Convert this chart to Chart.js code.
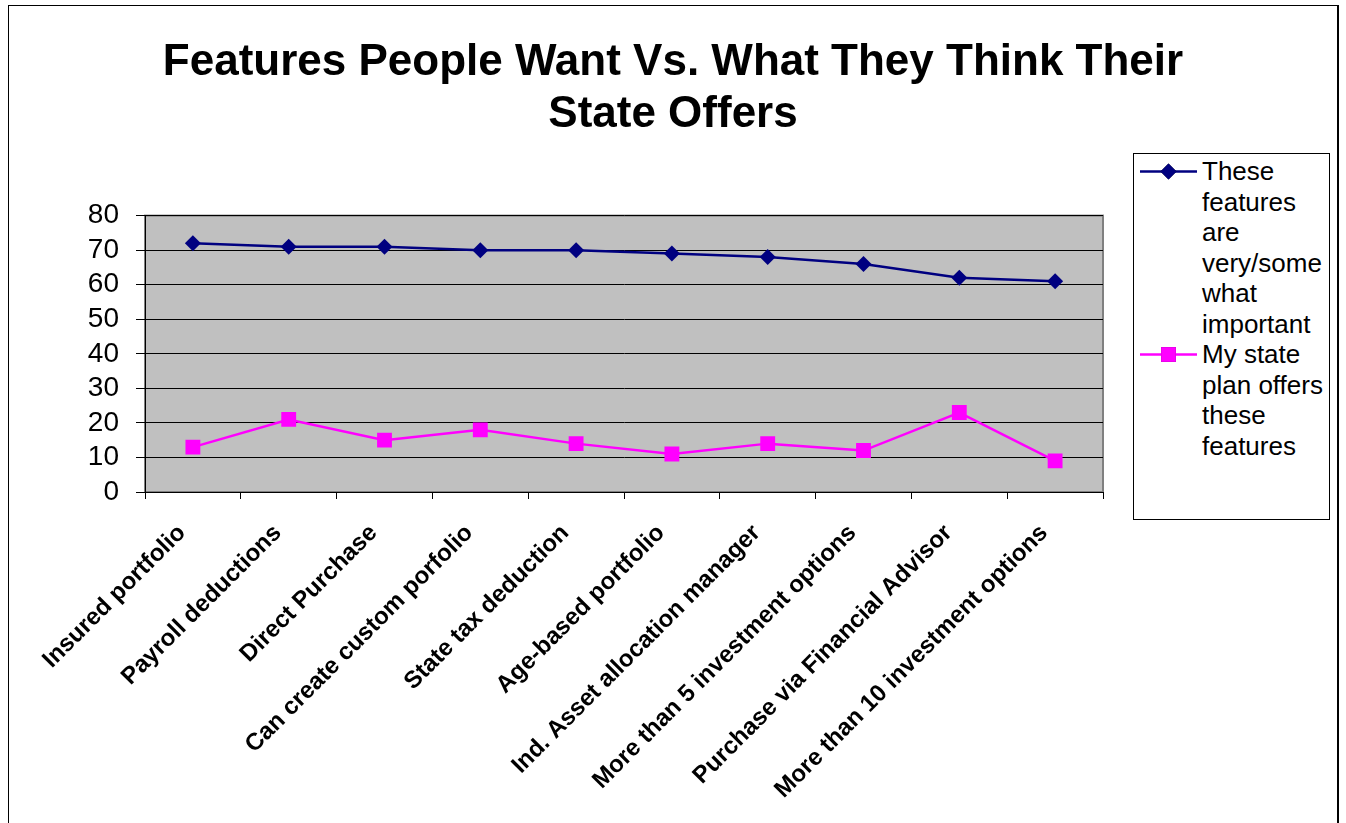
<!DOCTYPE html>
<html>
<head>
<meta charset="utf-8">
<script src="https://cdn.jsdelivr.net/npm/chart.js@4.4.1/dist/chart.umd.min.js"></script>
<style>
  html, body { margin:0; padding:0; background:#fff; overflow:hidden; }
  #frame { position:absolute; left:8px; top:5px; width:1328px; height:840px; border:1px solid #000; border-right-width:2px; }
  #wrap { position:absolute; left:0; top:0; width:1346px; height:823px; }
  #legenda { position:absolute; left:1133px; top:153px; width:195px; height:365px; border:1px solid #000; background:#fff;
    font-family:"Liberation Sans", Arial, sans-serif; font-size:26px; line-height:30.5px; color:#000; }
  .item { position:relative; padding-left:68px; margin-top:2px; }
  .item + .item { margin-top:0; }
  .item canvas { position:absolute; left:6px; top:0; }
  .item span.txt { display:block; width:128px; }
</style>
</head>
<body>
<div id="frame"></div>
<div id="wrap"><canvas id="grafico" width="1346" height="823"></canvas></div>
<div id="legenda"></div>
<script>
// Features People Want Vs. What They Think Their State Offers

const categorias = [
  'Insured portfolio', 'Payroll deductions', 'Direct Purchase', 'Can create custom porfolio',
  'State tax deduction', 'Age-based portfolio', 'Ind. Asset allocation manager',
  'More than 5 investment options', 'Purchase via Financial Advisor', 'More than 10 investment options'
];
const importantes = [72, 71, 71, 70, 70, 69, 68, 66, 62, 61];
const oferecidas = [13, 21, 15, 18, 14, 11, 14, 12, 23, 9];
const rotulos = ['These features are very/somewhat important', 'My state plan offers these features'];
const ticksY = [0, 10, 20, 30, 40, 50, 60, 70, 80];

const $ = (s) => document.querySelector(s);
const FONTE = '"Liberation Sans", Arial, sans-serif';

// fundo cinza da área de plotagem
const fundoPlot = {
  id: 'fundoPlot',
  beforeDraw(chart){
    const a = chart.chartArea, ctx = chart.ctx;
    ctx.save();
    ctx.fillStyle = '#c0c0c0';
    ctx.fillRect(a.left, a.top, a.right - a.left, a.bottom - a.top);
    ctx.strokeStyle = '#808080'; ctx.lineWidth = 2;
    ctx.strokeRect(a.left, a.top, a.right - a.left, a.bottom - a.top);
    ctx.restore();
  }
};

const grafico = new Chart($('#grafico'), {
  type: 'line',
  data: {
    labels: categorias,
    datasets: [
      { label: rotulos[0], data: importantes, borderColor:'#000080', backgroundColor:'#000080',
        borderWidth:2.5, pointStyle:'rectRot', pointRadius:8, pointBorderWidth:0, tension:0 },
      { label: rotulos[1], data: oferecidas, borderColor:'#ff00ff', backgroundColor:'#ff00ff',
        borderWidth:2.5, pointStyle:'rect', pointRadius:10.5, pointBorderWidth:0, tension:0 }
    ]
  },
  options: {
    responsive:false, animation:false,
    layout:{ padding:0 },
    plugins:{
      legend:{ display:false },
      tooltip:{ enabled:false },
      title:{
        display:true,
        text:['Features People Want Vs. What They Think Their', 'State Offers'],
        color:'#000', font:{ family:FONTE, size:44, weight:'bold', lineHeight:1.2 },
        padding:{ top:36, bottom:74 }
      }
    },
    scales:{
      x:{
        offset:true,
        grid:{ drawOnChartArea:false, drawTicks:true, tickLength:7, color:'#000', offset:true },
        border:{ color:'#000', width:1 },
        ticks:{ color:'#000', maxRotation:45, minRotation:45, autoSkip:false, padding:20, labelOffset:-11,
          font:{ family:FONTE, size:24, weight:'bold' } },
        afterFit(s){ s.height = 331; }
      },
      y:{
        min:0, max:80,
        afterBuildTicks(s){ s.ticks = ticksY.map(v => ({ value:v })); },
        grid:{ color:'#000', lineWidth:1, tickLength:9 },
        border:{ color:'#000', width:1 },
        ticks:{ color:'#000', padding:17, autoSkip:false, stepSize:10, font:{ family:FONTE, size:28 } },
        afterFit(s){ s.width = 145; }
      },
      reserva:{
        position:'right', display:true,
        grid:{ display:false }, border:{ display:false }, ticks:{ display:false },
        afterFit(s){ s.width = 243; }
      }
    }
  },
  plugins:[fundoPlot]
});

// legenda em HTML, com quebra como no original
function montarLegenda(chart){
  const caixa = $('#legenda');
  caixa.innerHTML = '';
  chart.data.datasets.forEach((d) => {
    const div = document.createElement('div');
    div.className = 'item';
    const c = document.createElement('canvas');
    c.width = 58; c.height = 31;
    const g = c.getContext('2d');
    g.strokeStyle = d.borderColor; g.lineWidth = d.borderWidth;
    g.beginPath(); g.moveTo(0, 15.5); g.lineTo(57, 15.5); g.stroke();
    Chart.helpers.drawPoint(g, { pointStyle:d.pointStyle, radius:d.pointRadius, borderWidth:0 }, 28.5, 15.5);
    g.fillStyle = d.backgroundColor; g.fill();
    const span = document.createElement('span');
    span.className = 'txt';
    span.innerHTML = d.label.replace('very/somewhat', '<span style="white-space:nowrap">very/some</span><wbr>what');
    div.appendChild(c); div.appendChild(span);
    caixa.appendChild(div);
  });
}
montarLegenda(grafico);
</script>
</body>
</html>
